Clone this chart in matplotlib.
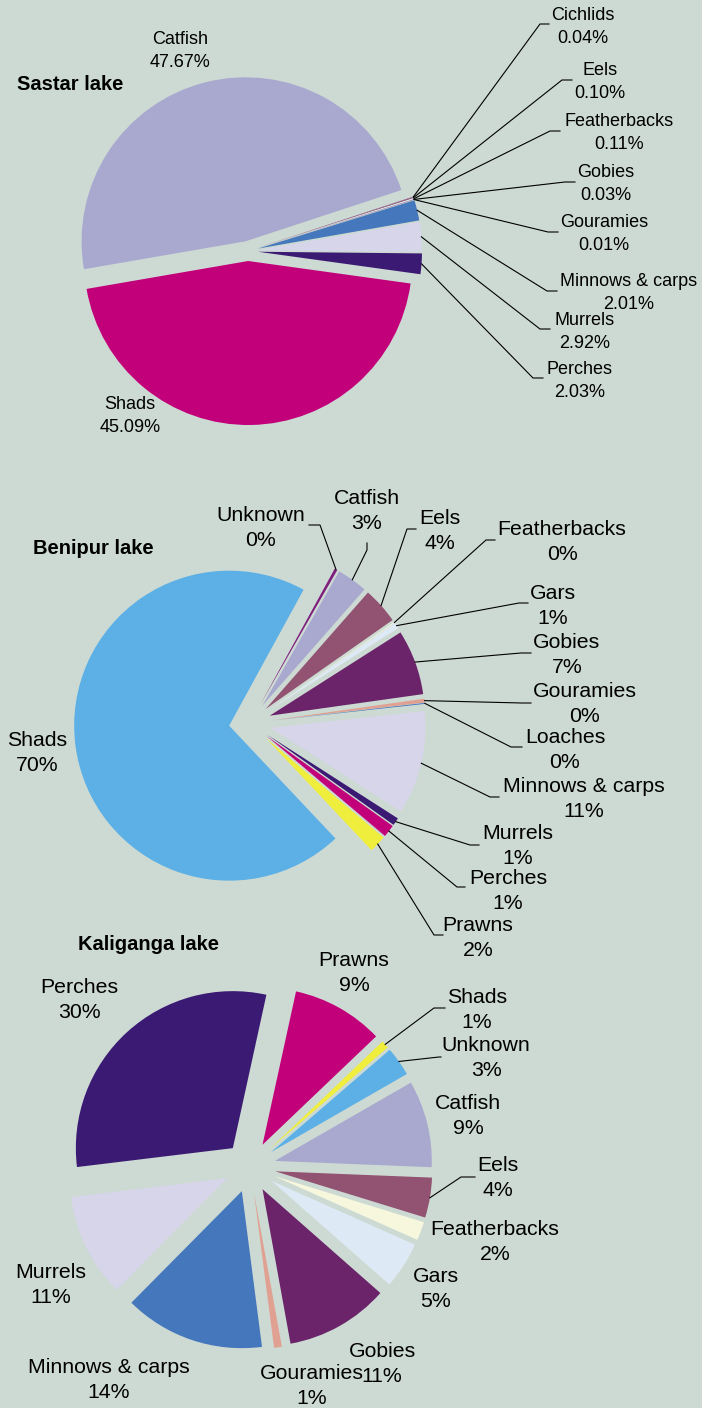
import matplotlib
matplotlib.use('Agg')
import matplotlib.pyplot as plt
import numpy as np

plt.rcParams['font.family'] = ['Liberation Sans', 'DejaVu Sans']

W, H = 702, 1408
BG = '#cddad3'

# ── data ─────────────────────────────────────────────────────────────────────
sastar_names = ['Catfish', 'Cichlids', 'Eels', 'Featherbacks', 'Gobies', 'Gouramies',
                'Minnows & carps', 'Murrels', 'Perches', 'Shads']
sastar_values = [47.67, 0.04, 0.10, 0.11, 0.03, 0.01, 2.01, 2.92, 2.03, 45.09]

benipur_names = ['Unknown', 'Catfish', 'Eels', 'Featherbacks', 'Gars', 'Gobies', 'Gouramies',
                 'Loaches', 'Minnows & carps', 'Murrels', 'Perches', 'Prawns', 'Shads']
benipur_values = [0.3, 3.2, 3.8, 0.1, 0.6, 6.8, 0.4, 0.1, 10.8, 0.8, 1.3, 1.8, 70.0]

kaliganga_names = ['Catfish', 'Eels', 'Featherbacks', 'Gars', 'Gobies', 'Gouramies',
                   'Minnows & carps', 'Murrels', 'Perches', 'Prawns', 'Shads', 'Unknown']
kaliganga_values = [8.9, 4.1, 1.9, 4.8, 10.6, 0.8, 14.4, 10.6, 30.2, 9.4, 0.8, 3.0]

# ── colours ──────────────────────────────────────────────────────────────────
lav, mauve, cream, paleblue = '#a9a8cf', '#925271', '#f6f7dc', '#dde9f5'
purple, salmon, blue, lightlav = '#6b2469', '#e0a193', '#4477bb', '#d7d5ea'
darkpurple, magenta, yellow, lightblue = '#3b1a74', '#c2007a', '#f0ee3c', '#5cb0e6'

sastar_colors = [lav, purple, mauve, paleblue, purple, salmon, blue, lightlav, darkpurple, magenta]
benipur_colors = ['#7e1f7e', lav, mauve, cream, paleblue, purple, salmon, blue, lightlav,
                  darkpurple, magenta, yellow, lightblue]
kaliganga_colors = [lav, mauve, cream, paleblue, purple, salmon, blue, lightlav, darkpurple,
                    magenta, yellow, lightblue]

# ── label layout (pixel coords of text centre; leader = elbow start, elbow end) ──
sastar_labels = [
    ((180, 51), None),
    ((583, 27), ((540, 24), (549, 24))),
    ((600, 82), ((562, 80), (572, 80))),
    ((619, 133), ((550, 131), (560, 131))),
    ((606, 184), ((565, 182), (575, 182))),
    ((604, 234), ((548, 232), (558, 232))),
    ((629, 293), ((547, 291), (557, 291))),
    ((585, 332), ((540, 329), (550, 329))),
    ((580, 381), ((533, 378), (543, 378))),
    ((130, 416), None),
]
benipur_labels = [
    ((261, 528), ((320, 525), (309, 525))),
    ((367, 511), ((367, 550), (367, 543))),
    ((440, 531), ((407, 529), (416, 529))),
    ((562, 542), ((486, 540), (495, 540))),
    ((553, 606), ((519, 603), (528, 603))),
    ((567, 655), ((521, 653), (531, 653))),
    ((585, 704), ((522, 703), (531, 703))),
    ((565, 750), ((511, 747), (522, 747))),
    ((584, 799), ((490, 797), (499, 797))),
    ((518, 846), ((470, 845), (479, 845))),
    ((508, 891), ((457, 887), (465, 887))),
    ((478, 938), ((434, 935), (443, 935))),
    ((37, 753), None),
]
kaliganga_labels = [
    ((468, 1116), None),
    ((498, 1178), ((461, 1177), (475, 1177))),
    ((495, 1242), None),
    ((436, 1289), None),
    ((382, 1364), None),
    ((312, 1386), None),
    ((109, 1380), None),
    ((51, 1285), None),
    ((79, 1000), None),
    ((354, 973), None),
    ((477, 1010), ((434, 1008), (445, 1008))),
    ((486, 1058), ((439, 1057), (441, 1057))),
]

fig = plt.figure(figsize=(W / 100, H / 100), dpi=100, facecolor=BG)
ax = fig.add_axes([0, 0, 1, 1])
ax.set_facecolor(BG)


def draw_pie(names, values, colors, labels, center, radius, explode, start, fs, fmt, title, title_xy):
    cx, cy = center
    wedges, _ = ax.pie(values, colors=colors, explode=[explode] * len(values),
                       startangle=start, counterclock=False, radius=radius,
                       center=(cx, H - cy), frame=True, wedgeprops=dict(linewidth=0))
    for w, name, val, (txt_xy, leader) in zip(wedges, names, values, labels):
        tx, ty = txt_xy
        ax.text(tx, H - ty, f"{name}\n{val:{fmt}}%", ha='center', va='center',
                fontsize=fs, color='black', linespacing=1.4)
        if leader is not None:
            mid = np.deg2rad((w.theta1 + w.theta2) / 2)
            px = w.center[0] + w.r * np.cos(mid)
            py = w.center[1] + w.r * np.sin(mid)
            (e1x, e1y), (e2x, e2y) = leader
            ax.plot([px, e1x, e2x], [py, H - e1y, H - e2y], color='black', lw=0.8,
                    solid_joinstyle='miter')
    ax.text(title_xy[0], H - title_xy[1], title, ha='center', va='center',
            fontsize=14.5, fontweight='bold')


draw_pie(sastar_names, sastar_values, sastar_colors, sastar_labels,
         (248, 251), 164, 10, 189.8, 13, '.2f', 'Sastar lake', (70, 85))
draw_pie(benipur_names, benipur_values, benipur_colors, benipur_labels,
         (250, 723), 155, 21, 61.3, 15.3, '.0f', 'Benipur lake', (93, 548))
draw_pie(kaliganga_names, kaliganga_values, kaliganga_colors, kaliganga_labels,
         (250, 1167), 157, 25.5, 29.9, 15.3, '.0f', 'Kaliganga lake', (149, 945))

ax.set_xlim(0, W)
ax.set_ylim(0, H)
ax.set_aspect('equal')
ax.axis('off')
fig.savefig('out.png', dpi=100, facecolor=BG)
